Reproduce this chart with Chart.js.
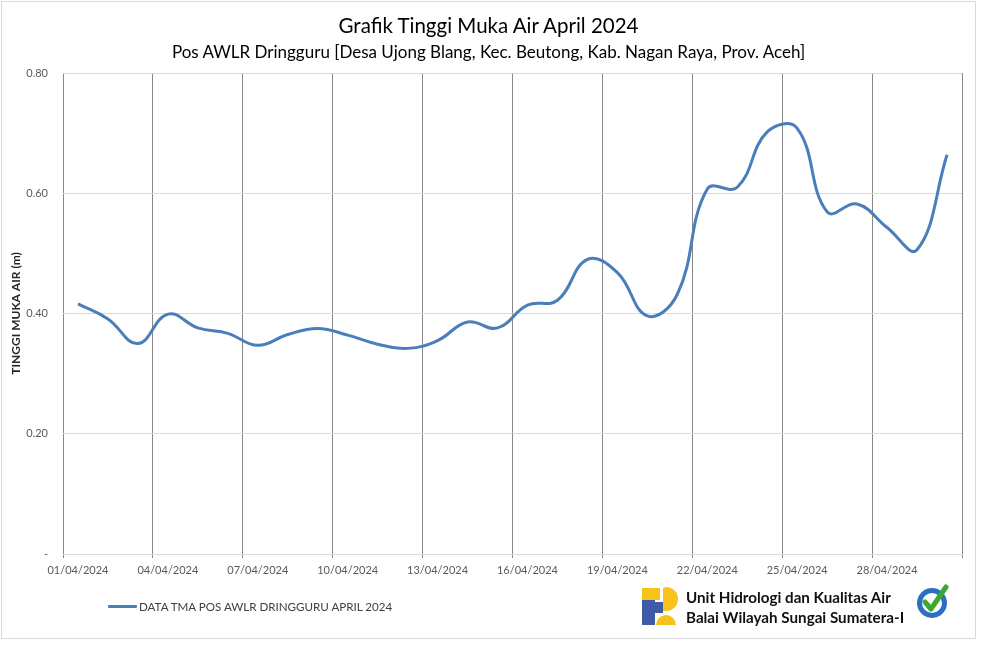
<!DOCTYPE html>
<html>
<head>
<meta charset="utf-8">
<script src="https://cdn.jsdelivr.net/npm/chart.js@4.4.1/dist/chart.umd.min.js"></script>
<style>
  html, body { margin: 0; padding: 0; background: #ffffff; }
  #wrap { position: relative; width: 984px; height: 660px; overflow: hidden; }
  #c { position: absolute; left: 0; top: 0; }
  #frame { position: absolute; left: 1px; top: 1px; width: 973px; height: 636px; border: 1px solid #d9d9d9; pointer-events: none; }
  .ttl { position: absolute; left: 1px; width: 975px; text-align: center; font-family: Lato, "Open Sans", sans-serif; color: #000000; white-space: nowrap; }
  #title { top: 13px; font-size: 20.5px; line-height: 24px; }
  #subtitle { top: 42px; font-size: 17px; line-height: 20px; }
  #legend { position: absolute; left: 108px; top: 600px; font-family: Lato, "Open Sans", sans-serif; font-size: 11.6px; color: #404040; display: flex; align-items: center; white-space: nowrap; }
  #legend .sw { display: inline-block; width: 29px; height: 3px; background: #4a7ebb; margin-right: 2px; border-radius: 1px; }
  #org { position: absolute; left: 686px; top: 587px; font-family: Lato, "Open Sans", sans-serif; font-weight: bold; font-size: 15.2px; line-height: 20px; color: #111111; white-space: nowrap; }
</style>
</head>
<body>
<div id="wrap">
  <canvas id="c" width="984" height="660"></canvas>
  <div id="frame"></div>
  <div id="title" class="ttl"></div>
  <div id="subtitle" class="ttl"></div>
  <div id="legend"><span class="sw"></span><span id="legendText"></span></div>
  <div id="org"><div>Unit Hidrologi dan Kualitas Air</div><div>Balai Wilayah Sungai Sumatera-I</div></div>
</div>
<script>
// ---- data ----
const titleText = "Grafik Tinggi Muka Air April 2024";
const subtitleText = "Pos AWLR Dringguru [Desa Ujong Blang, Kec. Beutong, Kab. Nagan Raya, Prov. Aceh]";
const seriesName = "DATA TMA POS AWLR DRINGGURU APRIL 2024";
const yAxisTitle = "TINGGI MUKA AIR (m)";

const dates = [
  "01/04/2024","02/04/2024","03/04/2024","04/04/2024","05/04/2024","06/04/2024",
  "07/04/2024","08/04/2024","09/04/2024","10/04/2024","11/04/2024","12/04/2024",
  "13/04/2024","14/04/2024","15/04/2024","16/04/2024","17/04/2024","18/04/2024",
  "19/04/2024","20/04/2024","21/04/2024","22/04/2024","23/04/2024","24/04/2024",
  "25/04/2024","26/04/2024","27/04/2024","28/04/2024","29/04/2024","30/04/2024"
];

const tmaValues = [
  0.416, 0.391, 0.350, 0.399, 0.376, 0.367,
  0.347, 0.365, 0.375, 0.364, 0.349, 0.342,
  0.355, 0.386, 0.376, 0.414, 0.422, 0.490,
  0.468, 0.396, 0.432, 0.607, 0.610, 0.702,
  0.708, 0.569, 0.582, 0.543, 0.506, 0.664
];

const yTickValues = [0, 0.2, 0.4, 0.6, 0.8];
const yTickLabels = ["-", "0.20", "0.40", "0.60", "0.80"];
const xLabelEvery = 3;

document.getElementById('title').textContent = titleText;
document.getElementById('subtitle').textContent = subtitleText;
document.getElementById('legendText').textContent = seriesName;

const FONT = 'Lato, "Open Sans", sans-serif';
const LINE_COLOR = '#4a7ebb';

const logoPlugin = {
  id: 'logos',
  afterDraw(chart) {
    const ctx = chart.ctx;
    ctx.save();
    // PU logo (approximate)
    const x0 = 642, y0 = 588;
    ctx.fillStyle = '#3f5aa8';
    ctx.fillRect(x0, y0 + 12, 13, 25);
    ctx.fillRect(x0 + 13, y0 + 14, 8, 11);
    ctx.fillStyle = '#f7c21a';
    ctx.fillRect(x0, y0, 18, 12);
    ctx.beginPath();
    ctx.moveTo(x0 + 21, y0);
    ctx.arc(x0 + 24, y0 + 11, 12, -Math.PI / 2, Math.PI / 2);
    ctx.lineTo(x0 + 21, y0 + 23);
    ctx.closePath();
    ctx.fill();
    ctx.beginPath();
    ctx.arc(x0 + 24, y0 + 37, 10, Math.PI, 2 * Math.PI);
    ctx.closePath();
    ctx.fill();
    // ISO badge (approximate)
    const cx = 932, cy = 603;
    ctx.beginPath();
    ctx.arc(cx, cy, 15, 0, Math.PI * 2);
    ctx.fillStyle = '#2a6fc0';
    ctx.fill();
    ctx.beginPath();
    ctx.arc(cx, cy, 10, 0, Math.PI * 2);
    ctx.fillStyle = '#ffffff';
    ctx.fill();
    ctx.strokeStyle = '#3aa832';
    ctx.lineWidth = 5;
    ctx.lineCap = 'round';
    ctx.lineJoin = 'round';
    ctx.beginPath();
    ctx.moveTo(925, 602);
    ctx.lineTo(931, 609);
    ctx.lineTo(946, 587);
    ctx.stroke();
    ctx.restore();
  }
};

new Chart(document.getElementById('c'), {
  type: 'line',
  data: {
    labels: dates,
    datasets: [{
      label: seriesName,
      data: tmaValues,
      borderColor: LINE_COLOR,
      borderWidth: 3,
      pointRadius: 0,
      pointHoverRadius: 0,
      tension: 0.42,
      fill: false
    }]
  },
  options: {
    responsive: false,
    animation: false,
    events: [],
    layout: { padding: { top: 73, left: 0, right: 22, bottom: 76 } },
    plugins: {
      legend: { display: false },
      tooltip: { enabled: false },
      title: { display: false },
      subtitle: { display: false }
    },
    scales: {
      x: {
        type: 'category',
        offset: true,
        grid: {
          offset: true,
          display: true,
          drawTicks: true,
          tickLength: 4,
          lineWidth: 1,
          color: (c) => (c.type !== 'tick' || c.index % xLabelEvery === 0) ? '#878787' : 'rgba(0,0,0,0)'
        },
        border: { display: true, color: '#d9d9d9', width: 1 },
        ticks: {
          autoSkip: false,
          maxRotation: 0,
          minRotation: 0,
          padding: 6,
          color: '#595959',
          font: { family: FONT, size: 11 },
          callback: (v, i) => (i % xLabelEvery === 0 ? dates[i] : '')
        },
        afterFit: (s) => { s.height = 30; }
      },
      y: {
        min: 0,
        max: 0.8,
        afterBuildTicks: (s) => { s.ticks = yTickValues.map(v => ({ value: v })); },
        grid: { color: '#d9d9d9', drawTicks: false, lineWidth: 1 },
        border: { display: false },
        ticks: {
          padding: 15,
          color: '#595959',
          font: { family: FONT, size: 11 },
          callback: (v) => { const k = yTickValues.indexOf(v); return k >= 0 ? yTickLabels[k] : ''; }
        },
        title: {
          display: true,
          text: yAxisTitle,
          color: '#262626',
          font: { family: FONT, size: 12, weight: 'bold' },
          padding: { top: 8.5, bottom: 0 }
        },
        afterFit: (s) => { s.width = 63; }
      }
    }
  },
  plugins: [logoPlugin]
});
</script>
</body>
</html>
